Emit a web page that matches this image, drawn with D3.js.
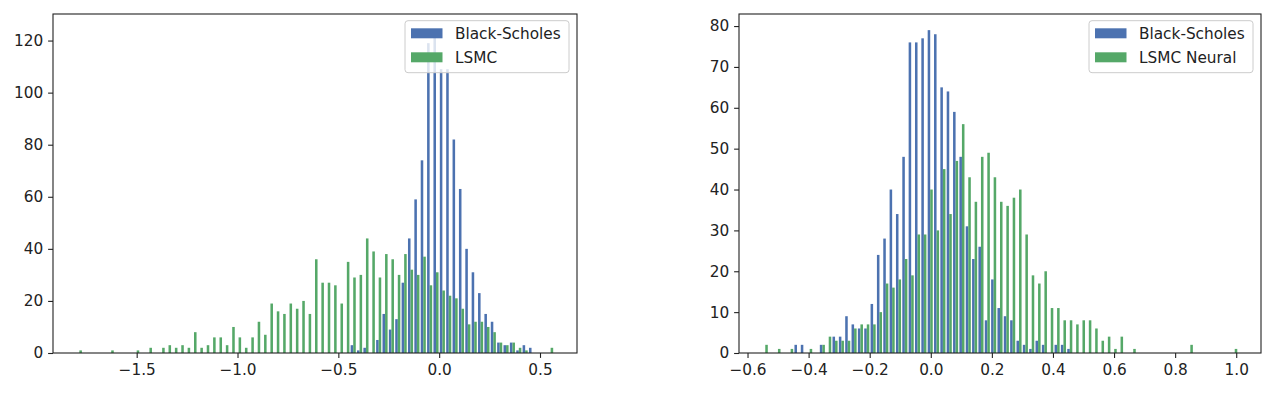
<!DOCTYPE html>
<html>
<head>
<meta charset="utf-8">
<script src="https://cdn.jsdelivr.net/npm/d3@7"></script>
<style>
  body { margin: 0; background: #fff; }
  text { font-family: "DejaVu Sans", sans-serif; }
</style>
</head>
<body>
<svg width="1269" height="393"></svg>
<script>
// counts per bin, 75 shared bins in each panel
var leftBlackScholes = [
  0,0,0,0,0,0,0,0,0,0, 0,0,0,0,0,0,0,0,0,0,
  0,0,0,0,0,0,0,0,0,0, 0,0,0,0,0,0,0,0,0,0,
  0,0,0,3,1,2,0,5,15,9, 13,27,44,59,74,119,124,109,109,82,
  63,40,31,23,15,12,4,3,4,1, 3,2,0,0,0
];
var leftLSMC = [
  1,0,0,0,0,1,0,0,0,1, 0,2,0,2,3,2,3,2,8,2,
  3,6,6,3,10,6,2,6,12,7, 19,16,15,19,17,20,15,36,27,27,
  26,19,35,29,30,44,39,29,38,36, 30,38,32,30,37,26,31,24,22,21,
  17,11,12,12,10,8,4,3,4,2, 1,0,0,0,2
];
var rightBlackScholes = [
  0,0,0,0,0,2,2,0,0,2, 0,4,4,9,7,6,6,12,24,28,
  40,34,48,76,76,77,79,78,65,64, 59,48,31,23,26,8,18,11,9,8,
  3,2,1,3,2,0,2,2,1,0, 0,0,0,0,0,0,0,0,0,0,
  0,0,0,0,0,0,0,0,0,0, 0,0,0,0,0
];
var rightLSMCNeural = [
  2,0,1,0,1,0,0,1,0,2, 4,3,3,3,6,7,7,7,10,17,
  16,18,23,19,29,29,40,30,45,34, 47,56,43,37,48,49,43,37,36,38,
  40,29,19,17,20,11,11,8,8,7, 8,8,6,3,4,1,4,0,1,0,
  0,0,0,0,0,0,0,2,0,0, 0,0,0,0,1
];

// range of the binned samples
var leftBinRange = [-1.800, 0.5685];
var rightBinRange = [-0.5523, 1.0055];

var leftXTicks = [-1.5, -1.0, -0.5, 0.0, 0.5];
var leftYTicks = [0, 20, 40, 60, 80, 100, 120];
var rightXTicks = [-0.6, -0.4, -0.2, 0.0, 0.2, 0.4, 0.6, 0.8, 1.0];
var rightYTicks = [0, 10, 20, 30, 40, 50, 60, 70, 80];

var seriesColors = ["#4c72b0", "#55a868"];

var svg = d3.select("svg");
var fontSize = 15.3,
    tickLen = 4.9;

function drawPanel(p) {
  var n = p.series[0].length,
      bw = (p.binRange[1] - p.binRange[0]) / n,
      edges = d3.range(n).map(function(i) { return p.binRange[0] + i * bw; });

  // matplotlib style limits: bar extent plus 5% margin
  var lo = p.binRange[0] + 0.1 * bw,
      hi = p.binRange[1] - 0.1 * bw,
      pad = (hi - lo) * 0.05;
  var x = d3.scaleLinear().domain([lo - pad, hi + pad]).range([p.left, p.right]);
  var ymax = d3.max(p.series, function(s) { return d3.max(s); });
  var y = d3.scaleLinear().domain([0, ymax * 1.05]).range([p.bottom, p.top]);

  var g = svg.append("g");

  p.series.forEach(function(counts, si) {
    g.append("g")
      .selectAll("rect")
      .data(counts)
      .enter().append("rect")
      .attr("x", function(d, i) { return x(edges[i] + (0.1 + 0.4 * si) * bw); })
      .attr("width", function(d, i) { return x(edges[i] + (0.5 + 0.4 * si) * bw) - x(edges[i] + (0.1 + 0.4 * si) * bw); })
      .attr("y", function(d) { return y(d); })
      .attr("height", function(d) { return y(0) - y(d); })
      .attr("fill", seriesColors[si]);
  });

  var xAxis = d3.axisBottom(x)
    .tickValues(p.xTicks)
    .tickFormat(d3.format(".1f"))
    .tickSize(tickLen)
    .tickPadding(6.5);
  var yAxis = d3.axisLeft(y)
    .tickValues(p.yTicks)
    .tickFormat(d3.format("d"))
    .tickSize(tickLen)
    .tickPadding(4.9);

  var gx = g.append("g")
    .attr("transform", "translate(0," + p.bottom + ")")
    .call(xAxis);
  var gy = g.append("g")
    .attr("transform", "translate(" + p.left + ",0)")
    .call(yAxis);

  [gx, gy].forEach(function(a) {
    a.select(".domain").remove();
    a.attr("font-family", "DejaVu Sans").attr("font-size", fontSize);
    a.selectAll("line").attr("stroke", "#222").attr("stroke-width", 1.1);
    a.selectAll("text").attr("fill", "#222");
  });

  // frame
  g.append("rect")
    .attr("x", p.left)
    .attr("y", p.top)
    .attr("width", p.right - p.left)
    .attr("height", p.bottom - p.top)
    .attr("fill", "none")
    .attr("stroke", "#222")
    .attr("stroke-width", 1.1);

  // legend
  var boxW = 164, boxH = 52;
  var lg = g.append("g")
    .attr("transform", "translate(" + (p.right - 8 - boxW) + "," + (p.top + 6.7) + ")");
  lg.append("rect")
    .attr("width", boxW)
    .attr("height", boxH)
    .attr("rx", 3)
    .attr("fill", "#fff")
    .attr("fill-opacity", 0.8)
    .attr("stroke", "#cccccc")
    .attr("stroke-width", 1);
  p.names.forEach(function(name, i) {
    lg.append("rect")
      .attr("x", 6)
      .attr("y", 7.6 + i * 24)
      .attr("width", 31.5)
      .attr("height", 10)
      .attr("fill", seriesColors[i]);
    lg.append("text")
      .attr("x", 50)
      .attr("y", 18.3 + i * 24)
      .attr("font-size", fontSize)
      .attr("fill", "#222")
      .text(name);
  });
}

drawPanel({
  left: 53, right: 577, top: 14, bottom: 353,
  series: [leftBlackScholes, leftLSMC],
  names: ["Black-Scholes", "LSMC"],
  binRange: leftBinRange,
  xTicks: leftXTicks,
  yTicks: leftYTicks
});

drawPanel({
  left: 739, right: 1261, top: 14, bottom: 353,
  series: [rightBlackScholes, rightLSMCNeural],
  names: ["Black-Scholes", "LSMC Neural"],
  binRange: rightBinRange,
  xTicks: rightXTicks,
  yTicks: rightYTicks
});
</script>
</body>
</html>
